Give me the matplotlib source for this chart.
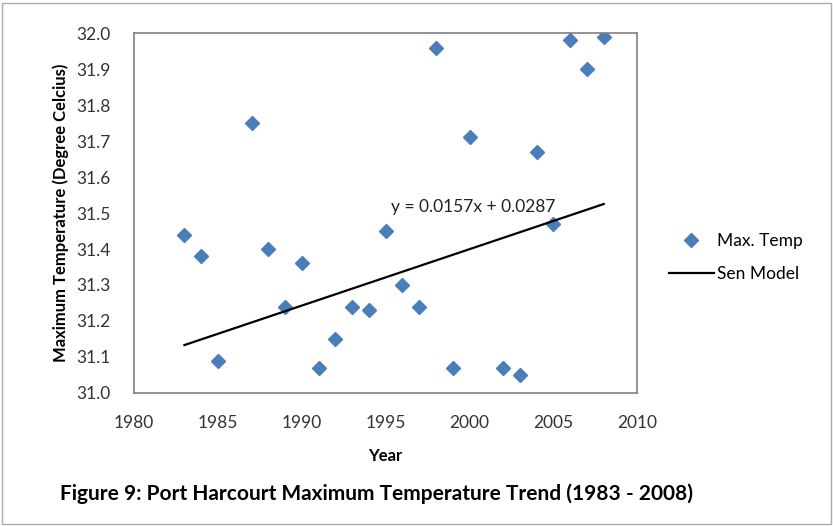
import matplotlib.pyplot as plt
from matplotlib.patches import Rectangle

plt.rcParams['font.family'] = ['Lato', 'DejaVu Sans']

# data
years = [1983, 1984, 1985, 1987, 1988, 1989, 1990, 1991, 1992, 1993, 1994,
         1995, 1996, 1997, 1998, 1999, 2000, 2002, 2003, 2004, 2005, 2006,
         2007, 2008]
max_temp = [31.44, 31.38, 31.09, 31.75, 31.40, 31.24, 31.36, 31.07, 31.15,
            31.24, 31.23, 31.45, 31.30, 31.24, 31.96, 31.07, 31.71, 31.07,
            31.05, 31.67, 31.47, 31.98, 31.90, 31.99]

sen_years = [1983, 2008]
sen_values = [31.133, 31.525]

x_ticks = [1980, 1985, 1990, 1995, 2000, 2005, 2010]
y_ticks = [31.0, 31.1, 31.2, 31.3, 31.4, 31.5, 31.6, 31.7, 31.8, 31.9, 32.0]

fig = plt.figure(figsize=(8.33, 5.26), dpi=100)
ax = fig.add_axes([0.161, 0.253, 0.604, 0.684])

ax.plot(years, max_temp, 'D', color='#4a7ebb', markersize=7.5,
        markeredgecolor='#4a7ebb', label='Max. Temp')
ax.plot(sen_years, sen_values, color='black', linewidth=1.6, label='Sen Model')

ax.text(1995.3, 31.517, 'y = 0.0157x + 0.0287', ha='left', va='center',
        fontsize=12.5, color='#222222')

# layout
ax.set_xlim(1980, 2010)
ax.set_ylim(31.0, 32.0)
ax.set_xticks(x_ticks)
ax.set_yticks(y_ticks)
ax.set_yticklabels([f'{v:.1f}' for v in y_ticks])
ax.tick_params(length=0, labelsize=12.5, labelcolor='#333333')
ax.tick_params(axis='y', pad=17)
ax.tick_params(axis='x', pad=16)
for side in ax.spines.values():
    side.set_color('#808080')
    side.set_linewidth(1.2)

ax.set_xlabel('Year', fontsize=12, fontweight='bold', labelpad=12)
ax.set_ylabel('Maximum Temperature (Degree Celcius)', fontsize=12,
              fontweight='bold', labelpad=5)

fig.legend(loc='center left', bbox_to_anchor=(0.784, 0.51), frameon=False,
           fontsize=12.5, handlelength=2.6, handletextpad=0.2, labelspacing=0.95)

fig.text(0.452, 0.061, 'Figure 9: Port Harcourt Maximum Temperature Trend (1983 - 2008)',
         ha='center', va='center', fontsize=15, fontweight='bold')

fig.patches.append(Rectangle((0.003, 0.004), 0.994, 0.99, transform=fig.transFigure,
                             fill=False, edgecolor='#aaaaaa', linewidth=1))

fig.savefig('out.png', dpi=100)
